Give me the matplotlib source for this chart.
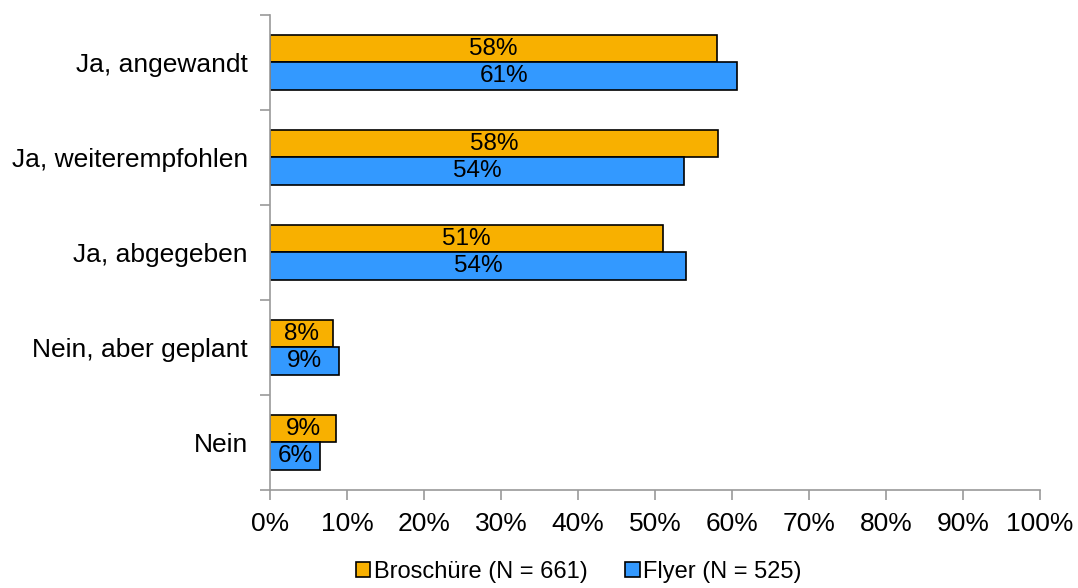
import matplotlib.pyplot as plt
from matplotlib.ticker import FixedLocator, PercentFormatter

plt.rcParams['font.family'] = ['Liberation Sans', 'DejaVu Sans']
plt.rcParams['font.size'] = 19

categories = ["Ja, angewandt", "Ja, weiterempfohlen", "Ja, abgegeben",
              "Nein, aber geplant", "Nein"]
broschuere = [58.0, 58.2, 51.0, 8.2, 8.6]
flyer = [60.7, 53.8, 54.0, 9.0, 6.5]
labels_b = ["58%", "58%", "51%", "8%", "9%"]
labels_f = ["61%", "54%", "54%", "9%", "6%"]
series_names = ["Broschüre (N = 661)", "Flyer (N = 525)"]


def main():
    fig = plt.figure(figsize=(10.78, 5.88), dpi=100)
    ax = fig.add_axes([0.2505, 0.1667, 0.7142, 0.8078])

    pos = list(range(len(categories)))
    h = 0.29
    yb = [p - h / 2 for p in pos]
    yf = [p + h / 2 for p in pos]

    bars_b = ax.barh(yb, broschuere, height=h, color='#F8B000', edgecolor='black',
                     linewidth=1.2, label=series_names[0])
    bars_f = ax.barh(yf, flyer, height=h, color='#3399FF', edgecolor='black',
                     linewidth=1.2, label=series_names[1])

    for bars, labs in ((bars_b, labels_b), (bars_f, labels_f)):
        for b, t in zip(bars, labs):
            ax.text(b.get_width() / 2, b.get_y() + b.get_height() / 2, t,
                    ha='center', va='center', fontsize=17.5)

    ax.set_xlim(0, 100)
    ax.set_ylim(len(categories) - 0.5, -0.5)
    ax.set_xticks(range(0, 101, 10))
    ax.xaxis.set_major_formatter(PercentFormatter(decimals=0))
    ax.set_yticks(pos)
    ax.set_yticklabels(categories)
    ax.yaxis.set_minor_locator(FixedLocator([p - 0.5 for p in pos] + [len(pos) - 0.5]))
    ax.tick_params(axis='y', which='major', length=0, pad=16)
    ax.tick_params(axis='y', which='minor', length=7, color='#999999', width=1.2)
    ax.tick_params(axis='x', length=7, color='#999999', width=1.2, pad=9)

    for s in ('top', 'right'):
        ax.spines[s].set_visible(False)
    for s in ('left', 'bottom'):
        ax.spines[s].set_color('#999999')
        ax.spines[s].set_linewidth(1.2)

    fig.legend(loc='lower center', bbox_to_anchor=(0.537, -0.028), ncol=2, frameon=False,
               fontsize=17, handlelength=0.6, handleheight=0.6, handletextpad=0.15,
               columnspacing=1.6)

    fig.savefig("out.png", dpi=100)


if __name__ == "__main__": main()
